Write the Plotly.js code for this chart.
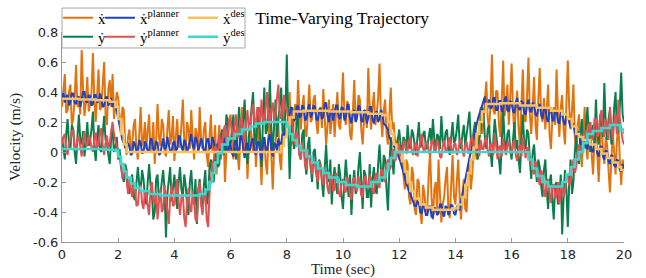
<!DOCTYPE html>
<html>
<head>
<meta charset="utf-8">
<script src="https://cdn.plot.ly/plotly-3.0.1.min.js"></script>
<style>html,body{margin:0;padding:0;background:#fff;}#chart{width:646px;height:278px;}</style>
</head>
<body>
<div id="chart"></div>
<script>
// time stamps of the sampled signals (sec), 0.05 s apart
const timeSec = [];
for (let i = 0; i <= 400; i++) timeSec.push(i / 20);

// x velocity measured (ẋ), one row per second
const xDot = [
  0.30, 0.44, 0.52, 0.26, 0.28, 0.40, 0.45, 0.18, 0.22, 0.36, 0.58, 0.30, 0.35, 0.25, 0.68, 0.42, 0.24, 0.33, 0.50, 0.27,
  0.32, 0.40, 0.66, 0.35, 0.20, 0.38, 0.55, 0.28, 0.30, 0.45, 0.60, 0.24, 0.18, 0.42, 0.48, 0.30, 0.52, 0.22, 0.30, 0.40,
  0.36, 0.20, 0.12, 0.30, 0.28, 0.05, -0.02, 0.10, 0.15, 0.00, 0.05, 0.18, 0.22, 0.02, -0.05, 0.12, 0.30, 0.04, 0.08, 0.20,
  0.02, 0.14, 0.25, 0.00, 0.06, 0.20, -0.08, 0.08, 0.32, 0.10, 0.04, 0.22, 0.18, 0.01, -0.03, 0.15, 0.28, 0.05, 0.10, 0.24,
  -0.06, 0.10, 0.22, 0.03, 0.05, 0.18, 0.35, 0.08, 0.00, 0.20, 0.15, 0.02, 0.28, 0.10, -0.05, 0.16, 0.12, 0.00, 0.30, 0.08,
  0.02, 0.15, 0.20, -0.02, -0.10, 0.10, 0.25, 0.00, 0.05, 0.18, -0.15, 0.06, 0.18, -0.05, 0.02, 0.14, -0.20, 0.00, 0.12, 0.22,
  0.25, 0.05, -0.05, 0.12, 0.15, -0.02, -0.12, 0.10, 0.30, 0.00, 0.05, 0.16, -0.18, 0.02, 0.20, 0.08, 0.00, 0.22, -0.10, 0.06,
  0.22, 0.00, -0.22, 0.05, 0.10, -0.08, -0.15, 0.12, 0.28, -0.02, -0.25, 0.02, 0.05, 0.20, 0.18, -0.05, -0.12, 0.15, 0.35, 0.20,
  0.10, 0.25, 0.40, 0.12, 0.05, 0.22, 0.32, 0.18, 0.48, 0.28, 0.15, 0.30, 0.38, 0.14, 0.10, 0.26, 0.45, 0.20, 0.22, 0.35,
  0.38, 0.20, 0.12, 0.28, 0.30, 0.16, 0.42, 0.22, 0.05, 0.18, 0.35, 0.12, 0.20, 0.32, 0.10, 0.24, 0.40, 0.18, 0.15, 0.30,
  0.53, 0.25, 0.18, 0.34, 0.30, 0.12, 0.08, 0.26, 0.48, 0.20, 0.22, 0.38, 0.35, 0.15, 0.05, 0.22, 0.28, 0.16, 0.56, 0.30,
  0.15, 0.30, 0.40, 0.18, 0.25, 0.36, 0.59, 0.22, 0.10, 0.28, 0.35, 0.12, 0.05, 0.25, 0.43, 0.15, 0.20, 0.08, 0.02, 0.10,
  -0.05, 0.02, 0.00, -0.15, -0.25, -0.05, -0.08, -0.30, -0.35, -0.10, -0.15, -0.38, -0.42, -0.18, -0.20, -0.40, -0.48, -0.22, -0.28, -0.40,
  -0.38, -0.15, 0.00, -0.30, -0.45, -0.25, -0.20, -0.40, -0.05, -0.28, -0.47, -0.35, -0.30, -0.18, -0.10, -0.38, -0.44, -0.22, -0.02, -0.30,
  -0.35, -0.20, -0.05, -0.30, -0.45, -0.28, -0.18, -0.38, -0.40, -0.15, -0.08, -0.25, -0.15, 0.02, 0.10, -0.05, 0.05, 0.20, 0.30, 0.12,
  0.20, 0.35, 0.47, 0.22, 0.15, 0.32, 0.65, 0.28, 0.25, 0.41, 0.40, 0.18, 0.10, 0.35, 0.61, 0.24, 0.30, 0.45, 0.18, 0.36,
  0.59, 0.28, 0.10, 0.30, 0.41, 0.15, 0.05, 0.32, 0.55, 0.22, 0.20, 0.38, 0.63, 0.25, 0.12, 0.30, 0.50, 0.18, 0.08, 0.35,
  0.56, 0.25, 0.20, 0.36, 0.15, 0.28, 0.45, 0.12, 0.02, 0.22, 0.30, 0.18, 0.55, 0.26, 0.10, 0.30, 0.38, 0.15, 0.05, 0.32,
  0.61, 0.30, 0.15, 0.28, 0.45, 0.10, 0.00, 0.18, 0.25, 0.02, -0.10, 0.12, 0.30, 0.05, -0.05, 0.15, 0.20, -0.02, -0.15, 0.08,
  0.15, -0.02, -0.20, 0.05, 0.25, 0.00, -0.08, 0.10, 0.05, -0.12, -0.27, -0.05, 0.12, 0.00, -0.15, 0.08, 0.20, -0.05, -0.22, -0.05,
  -0.10
];

// y velocity measured (ẏ)
const yDot = [
  0.10, 0.02, -0.05, 0.12, 0.22, 0.05, 0.02, 0.18, 0.15, 0.00, -0.08, 0.10, 0.25, 0.08, 0.05, 0.14, -0.03, 0.06, 0.20, 0.04,
  0.08, 0.15, 0.27, 0.04, -0.06, 0.10, 0.18, 0.02, 0.00, 0.12, 0.24, 0.08, 0.06, -0.02, -0.08, 0.10, 0.15, 0.00, 0.03, 0.10,
  -0.05, 0.02, -0.10, -0.15, -0.20, -0.08, -0.12, -0.25, -0.28, -0.18, -0.15, -0.30, -0.32, -0.20, -0.10, -0.22, -0.25, -0.12, -0.18, -0.30,
  -0.35, -0.20, -0.08, -0.22, -0.28, -0.45, -0.40, -0.18, -0.15, -0.32, -0.30, -0.20, -0.12, -0.25, -0.57, -0.28, -0.20, -0.10, -0.33, -0.22,
  -0.15, -0.28, -0.38, -0.20, -0.10, -0.25, -0.30, -0.15, -0.22, -0.35, -0.42, -0.20, -0.12, -0.28, -0.35, -0.18, -0.48, -0.25, -0.18, -0.32,
  -0.40, -0.22, -0.12, -0.35, -0.30, -0.10, -0.05, -0.18, -0.20, 0.00, 0.05, -0.10, -0.08, 0.10, 0.15, -0.02, 0.02, 0.25, 0.20, 0.00,
  0.05, 0.15, 0.25, 0.02, -0.05, 0.12, 0.30, 0.08, 0.10, 0.22, 0.35, 0.05, -0.08, 0.10, 0.20, 0.30, 0.40, 0.12, 0.05, 0.18,
  0.30, 0.10, -0.10, 0.20, 0.43, 0.12, 0.15, 0.28, 0.48, 0.15, 0.00, 0.18, 0.35, 0.10, 0.20, 0.30, 0.43, 0.15, 0.10, 0.25,
  0.65, 0.20, -0.18, 0.10, 0.30, 0.02, 0.05, 0.20, 0.25, -0.02, -0.05, 0.12, 0.15, -0.08, -0.15, 0.05, 0.10, -0.10, -0.20, 0.00,
  0.02, -0.12, -0.25, -0.05, -0.08, -0.20, -0.30, -0.10, 0.05, -0.15, -0.20, -0.05, -0.35, -0.18, -0.10, -0.22, -0.28, -0.08, -0.15, -0.30,
  -0.38, -0.20, -0.05, -0.18, -0.30, -0.15, -0.42, -0.22, -0.12, -0.28, -0.25, -0.10, 0.00, -0.20, -0.38, -0.12, -0.15, -0.30, -0.30, -0.08,
  -0.37, -0.18, -0.10, -0.25, -0.28, -0.08, 0.05, -0.12, -0.20, -0.02, -0.05, -0.25, -0.39, -0.10, 0.10, -0.05, -0.15, 0.05, 0.00, 0.08,
  0.15, 0.05, -0.03, 0.10, 0.08, 0.00, 0.18, 0.06, 0.02, 0.15, 0.12, 0.04, -0.02, 0.10, 0.20, 0.03, 0.05, 0.12, 0.14, 0.02,
  0.03, 0.10, 0.16, 0.05, 0.22, 0.08, 0.01, 0.12, 0.10, 0.02, 0.24, 0.08, 0.04, 0.13, 0.15, 0.03, -0.02, 0.10, 0.20, 0.06,
  0.08, 0.15, 0.25, 0.06, 0.02, 0.12, 0.18, 0.04, 0.12, 0.20, 0.27, 0.08, 0.05, 0.14, 0.20, 0.02, -0.05, 0.08, 0.15, 0.30,
  0.25, 0.10, 0.02, 0.15, 0.18, 0.00, -0.10, 0.08, 0.22, 0.12, 0.05, -0.05, -0.15, 0.10, 0.28, 0.08, 0.00, 0.12, 0.15, 0.02,
  -0.05, 0.08, 0.20, 0.02, 0.08, -0.05, -0.14, 0.10, 0.25, 0.06, 0.02, 0.15, 0.12, -0.05, -0.18, 0.00, 0.05, -0.10, -0.20, -0.05,
  -0.10, -0.22, -0.30, -0.12, -0.05, -0.25, -0.38, -0.20, -0.15, -0.32, -0.45, -0.22, -0.20, -0.35, -0.30, -0.15, -0.55, -0.30, -0.12, -0.25,
  -0.50, -0.20, -0.05, -0.28, -0.20, 0.00, 0.10, -0.05, -0.08, 0.12, 0.22, 0.02, 0.05, 0.18, 0.30, 0.08, 0.00, 0.15, 0.18, 0.05,
  0.35, 0.12, 0.05, 0.25, 0.20, 0.10, 0.46, 0.18, 0.08, 0.22, 0.28, 0.05, 0.10, 0.30, 0.40, 0.12, 0.15, 0.30, 0.53, 0.25,
  0.20
];

// x velocity from planner (ẋ^planner)
const xPlanner = [
  0.36, 0.40, 0.33, 0.37, 0.38, 0.31, 0.34, 0.39, 0.39, 0.33, 0.32, 0.36, 0.37, 0.30, 0.35, 0.40, 0.40, 0.34, 0.33, 0.38,
  0.37, 0.31, 0.32, 0.38, 0.38, 0.33, 0.34, 0.39, 0.36, 0.30, 0.31, 0.36, 0.37, 0.31, 0.33, 0.36, 0.30, 0.34, 0.32, 0.27,
  0.22, 0.17, 0.12, 0.08, 0.06, 0.03, 0.02, 0.06, 0.04, -0.02, -0.01, 0.07, 0.05, 0.00, 0.01, 0.08, 0.06, -0.01, 0.00, 0.07,
  0.05, 0.00, 0.01, 0.09, 0.08, 0.01, 0.02, 0.07, 0.06, -0.02, -0.01, 0.05, 0.09, 0.02, 0.03, 0.10, 0.05, 0.00, 0.00, 0.06,
  0.07, 0.01, 0.02, 0.11, 0.10, 0.03, 0.01, 0.08, 0.06, 0.00, 0.03, 0.09, 0.12, 0.04, 0.02, 0.10, 0.08, 0.01, 0.04, 0.09,
  0.06, 0.00, 0.01, 0.08, 0.09, 0.02, 0.03, 0.10, 0.07, -0.01, 0.00, 0.06, 0.05, -0.02, 0.02, 0.09, 0.08, 0.00, 0.01, 0.07,
  0.04, -0.01, -0.03, 0.06, 0.08, 0.00, 0.01, 0.10, 0.11, 0.02, -0.04, 0.04, 0.06, -0.01, 0.02, 0.08, 0.09, 0.00, -0.02, 0.06,
  0.07, 0.00, -0.05, 0.05, 0.10, 0.02, 0.00, 0.09, 0.12, 0.01, -0.03, 0.06, 0.05, 0.01, 0.09, 0.04, 0.06, 0.12, 0.10, 0.15,
  0.18, 0.22, 0.24, 0.30, 0.28, 0.21, 0.22, 0.30, 0.31, 0.23, 0.24, 0.31, 0.30, 0.21, 0.22, 0.29, 0.32, 0.23, 0.25, 0.31,
  0.30, 0.22, 0.21, 0.28, 0.29, 0.22, 0.24, 0.32, 0.33, 0.24, 0.20, 0.27, 0.28, 0.21, 0.25, 0.31, 0.31, 0.23, 0.22, 0.30,
  0.29, 0.21, 0.23, 0.31, 0.32, 0.22, 0.19, 0.27, 0.28, 0.20, 0.24, 0.31, 0.30, 0.21, 0.20, 0.28, 0.27, 0.19, 0.23, 0.30,
  0.30, 0.22, 0.19, 0.26, 0.27, 0.20, 0.22, 0.28, 0.26, 0.19, 0.18, 0.16, 0.15, 0.10, 0.08, 0.05, 0.04, 0.03, 0.01, -0.02,
  -0.04, -0.07, -0.10, -0.14, -0.17, -0.21, -0.24, -0.26, -0.28, -0.31, -0.33, -0.36, -0.36, -0.33, -0.34, -0.40, -0.41, -0.35, -0.37, -0.42,
  -0.42, -0.37, -0.36, -0.43, -0.44, -0.37, -0.38, -0.42, -0.41, -0.35, -0.35, -0.41, -0.43, -0.36, -0.37, -0.42, -0.40, -0.35, -0.36, -0.41,
  -0.42, -0.37, -0.35, -0.39, -0.33, -0.28, -0.22, -0.18, -0.12, -0.08, -0.04, 0.00, 0.05, 0.09, 0.13, 0.18, 0.22, 0.25, 0.28, 0.31,
  0.33, 0.37, 0.27, 0.30, 0.35, 0.29, 0.30, 0.36, 0.36, 0.28, 0.28, 0.34, 0.34, 0.27, 0.29, 0.35, 0.37, 0.28, 0.27, 0.34,
  0.33, 0.27, 0.26, 0.33, 0.36, 0.29, 0.28, 0.34, 0.33, 0.26, 0.25, 0.32, 0.35, 0.27, 0.27, 0.33, 0.31, 0.25, 0.24, 0.30,
  0.32, 0.25, 0.22, 0.29, 0.30, 0.22, 0.20, 0.28, 0.29, 0.21, 0.21, 0.27, 0.28, 0.20, 0.19, 0.26, 0.27, 0.20, 0.18, 0.25,
  0.24, 0.19, 0.16, 0.20, 0.18, 0.13, 0.10, 0.14, 0.12, 0.06, 0.05, 0.11, 0.10, 0.03, 0.02, 0.08, 0.08, 0.01, 0.00, 0.06,
  0.05, -0.01, -0.03, 0.03, 0.04, -0.03, -0.05, 0.01, 0.00, -0.06, -0.08, -0.02, -0.03, -0.09, -0.10, -0.05, -0.06, -0.12, -0.13, -0.08,
  -0.12
];

// y velocity from planner (ẏ^planner)
const yPlanner = [
  0.05, 0.10, 0.12, 0.02, -0.02, 0.06, 0.08, 0.13, 0.15, 0.04, 0.01, 0.09, 0.10, 0.02, -0.03, 0.07, 0.14, 0.05, 0.04, 0.11,
  0.09, 0.03, 0.00, 0.08, 0.13, 0.03, 0.05, 0.12, 0.16, 0.04, -0.02, 0.06, 0.11, 0.02, 0.06, 0.14, 0.20, 0.12, 0.08, 0.03,
  0.00, -0.05, -0.08, -0.18, -0.15, -0.10, -0.22, -0.28, -0.18, -0.26, -0.30, -0.20, -0.25, -0.36, -0.35, -0.24, -0.22, -0.34, -0.38, -0.26,
  -0.28, -0.36, -0.42, -0.25, -0.20, -0.32, -0.35, -0.26, -0.45, -0.33, -0.25, -0.40, -0.38, -0.22, -0.30, -0.42, -0.48, -0.30, -0.22, -0.36,
  -0.35, -0.26, -0.18, -0.33, -0.42, -0.30, -0.28, -0.44, -0.50, -0.34, -0.24, -0.38, -0.40, -0.26, -0.32, -0.45, -0.46, -0.28, -0.20, -0.35,
  -0.42, -0.30, -0.25, -0.45, -0.50, -0.28, -0.15, -0.08, -0.05, 0.04, 0.02, -0.03, 0.12, 0.02, 0.05, 0.15, 0.18, 0.06, 0.10, 0.22,
  0.20, 0.12, 0.08, 0.18, 0.25, 0.10, 0.12, 0.22, 0.22, 0.10, 0.06, 0.20, 0.28, 0.14, 0.15, 0.26, 0.32, 0.20, 0.18, 0.30,
  0.26, 0.18, 0.35, 0.22, 0.20, 0.30, 0.40, 0.22, 0.18, 0.28, 0.33, 0.20, 0.25, 0.36, 0.45, 0.25, 0.22, 0.32, 0.38, 0.28,
  0.30, 0.22, 0.15, 0.25, 0.20, 0.08, 0.05, 0.14, 0.10, -0.02, -0.05, 0.06, 0.02, -0.08, -0.12, 0.00, -0.02, -0.10, -0.15, -0.05,
  -0.08, -0.15, -0.20, -0.06, -0.10, -0.18, -0.22, -0.12, -0.14, -0.24, -0.28, -0.15, -0.16, -0.26, -0.25, -0.14, -0.19, -0.27, -0.30, -0.20,
  -0.18, -0.25, -0.27, -0.17, -0.20, -0.29, -0.32, -0.19, -0.17, -0.24, -0.26, -0.16, -0.21, -0.29, -0.30, -0.18, -0.16, -0.23, -0.25, -0.15,
  -0.18, -0.26, -0.28, -0.16, -0.14, -0.22, -0.24, -0.12, -0.12, -0.18, -0.20, -0.08, -0.05, -0.12, -0.10, 0.00, 0.02, -0.06, -0.04, 0.04,
  0.05, -0.02, -0.03, 0.06, 0.08, -0.01, 0.01, 0.07, 0.10, 0.00, -0.02, 0.05, 0.06, -0.03, 0.03, 0.09, 0.12, 0.02, 0.00, 0.06,
  0.07, 0.00, -0.02, 0.06, 0.09, 0.00, 0.02, 0.08, 0.05, -0.03, -0.04, 0.04, 0.08, 0.00, 0.01, 0.07, 0.10, 0.02, -0.01, 0.05,
  0.06, -0.02, 0.00, 0.07, 0.09, 0.01, -0.03, 0.04, 0.07, -0.01, 0.02, 0.08, 0.11, 0.03, -0.02, 0.04, 0.05, -0.03, 0.08, 0.02,
  0.02, 0.08, 0.10, 0.01, -0.03, 0.05, 0.06, -0.02, 0.12, 0.04, -0.05, 0.03, 0.04, -0.03, 0.09, 0.02, -0.02, 0.05, 0.07, -0.01,
  0.00, 0.06, 0.08, -0.02, -0.06, 0.02, 0.05, -0.03, 0.10, 0.02, -0.04, 0.03, 0.02, -0.06, -0.08, -0.12, -0.15, -0.06, -0.10, -0.18,
  -0.22, -0.12, -0.15, -0.26, -0.30, -0.20, -0.18, -0.28, -0.34, -0.22, -0.22, -0.31, -0.28, -0.20, -0.35, -0.25, -0.20, -0.30, -0.26, -0.18,
  -0.15, -0.22, -0.20, -0.10, -0.05, -0.14, -0.10, 0.00, 0.05, -0.02, 0.02, 0.10, 0.15, 0.05, 0.08, 0.18, 0.20, 0.08, 0.10, 0.22,
  0.22, 0.10, 0.12, 0.24, 0.28, 0.15, 0.10, 0.22, 0.18, 0.08, 0.30, 0.18, 0.08, 0.20, 0.25, 0.12, 0.35, 0.22, 0.15, 0.08,
  0.05
];

// desired x velocity (ẋ^des), held between updates
const xDesTime = [0, 0.6, 1.2, 1.7, 1.9, 2.0, 2.1, 2.2, 2.3, 7.8, 7.9, 8.0, 8.1, 8.25, 8.6, 9.5, 10.3, 10.9, 11.4,
  11.6, 11.7, 11.8, 11.9, 12.1, 12.2, 12.3, 12.4, 12.55, 12.75, 12.95, 13.2, 13.9, 14.1, 14.25, 14.35, 14.45,
  14.55, 14.65, 14.75, 14.85, 14.95, 15.1, 15.6, 16.3, 16.9, 17.4, 17.8, 18.0, 18.15, 18.3, 18.4, 18.55, 18.8,
  19.0, 19.2, 19.4, 19.6, 19.8, 19.9, 20];
const xDes = [0.355, 0.35, 0.345, 0.335, 0.30, 0.22, 0.12, 0.05, 0.0, 0.04, 0.10, 0.17, 0.23, 0.27, 0.275, 0.27, 0.265, 0.255, 0.245,
  0.20, 0.12, 0.05, 0.0, -0.06, -0.13, -0.20, -0.26, -0.31, -0.35, -0.37, -0.385, -0.375, -0.35, -0.30, -0.22, -0.14,
  -0.05, 0.03, 0.12, 0.20, 0.27, 0.32, 0.325, 0.31, 0.295, 0.275, 0.25, 0.22, 0.17, 0.12, 0.10, 0.08, 0.05,
  0.02, -0.01, -0.04, -0.07, -0.10, -0.12, -0.12];

// desired y velocity (ẏ^des), held between updates
const yDesTime = [0, 0.8, 1.5, 1.9, 2.0, 2.1, 2.2, 2.3, 2.45, 2.6, 2.8, 3.1, 3.5, 4.4, 4.9, 5.1, 5.25, 5.35, 5.45, 5.55,
  5.7, 5.9, 6.15, 6.4, 6.7, 6.9, 7.2, 7.9, 8.0, 8.1, 8.2, 8.35, 8.5, 8.7, 8.9, 9.1, 9.3, 9.5, 9.8, 10.1, 10.5,
  11.0, 11.3, 11.5, 11.6, 11.7, 11.85, 16.5, 16.6, 16.75, 16.9, 17.1, 17.3, 17.6, 17.8, 17.95, 18.1, 18.25, 18.4,
  18.55, 18.7, 18.9, 19.2, 19.5, 19.7, 19.85, 20];
const yDes = [0.02, 0.02, 0.015, 0.01, -0.03, -0.08, -0.13, -0.17, -0.21, -0.24, -0.26, -0.28, -0.29, -0.29, -0.28, -0.25, -0.20, -0.14, -0.07, -0.01,
  0.05, 0.09, 0.12, 0.15, 0.17, 0.19, 0.20, 0.20, 0.17, 0.12, 0.08, 0.04, 0.01, -0.03, -0.07, -0.11, -0.14, -0.17, -0.20, -0.22, -0.23,
  -0.20, -0.17, -0.13, -0.08, -0.04, 0.0, 0.0, -0.05, -0.11, -0.16, -0.20, -0.23, -0.23, -0.20, -0.15, -0.10, -0.05, 0.0,
  0.06, 0.12, 0.14, 0.16, 0.18, 0.18, 0.15, 0.12];

const yTickVals = [-0.6, -0.4, -0.2, 0, 0.2, 0.4, 0.6, 0.8];
const yTickText = ['-0.6', '-0.4', '-0.2', '0', '0.2', '0.4', '0.6', '0.8'];
const xTickVals = [0, 2, 4, 6, 8, 10, 12, 14, 16, 18, 20];

const legendFont = {family: 'Liberation Serif, DejaVu Serif, serif', size: 15, color: '#000'};
const noisyW = 2, desW = 2.6;

const traces = [
  {x: timeSec, y: xDot, name: 'ẋ', legend: 'legend', line: {color: '#E2740F', width: noisyW}},
  {x: timeSec, y: yDot, name: 'ẏ', legend: 'legend2', line: {color: '#0C7D4C', width: noisyW}},
  {x: timeSec, y: xPlanner, name: 'ẋ<sup>planner</sup>', legend: 'legend3', line: {color: '#2141BE', width: noisyW}},
  {x: timeSec, y: yPlanner, name: 'ẏ<sup>planner</sup>', legend: 'legend4', line: {color: '#E05252', width: noisyW}},
  {x: xDesTime, y: xDes, name: 'ẋ<sup>des</sup>', legend: 'legend5', line: {color: '#F9C25C', width: desW, shape: 'hv'}},
  {x: yDesTime, y: yDes, name: 'ẏ<sup>des</sup>', legend: 'legend6', line: {color: '#3FD6CE', width: desW, shape: 'hv'}}
].map(tr => Object.assign({type: 'scatter', mode: 'lines', hoverinfo: 'skip'}, tr));

function leg(x, y) {
  return {x: x, y: y, xanchor: 'left', yanchor: 'middle', bgcolor: 'rgba(0,0,0,0)', borderwidth: 0,
          font: legendFont, itemwidth: 30};
}
const row1 = 1.067, row2 = 0.976;
const c1 = -0.007, c2 = 0.0676, c3 = 0.2153;

const layout = {
  width: 646, height: 278,
  margin: {l: 62, r: 22, t: 32, b: 36, autoexpand: false},
  paper_bgcolor: '#fff', plot_bgcolor: '#fff',
  showlegend: true,
  title: {text: 'Time-Varying Trajectory', x: 0.395, xanchor: 'left', xref: 'container',
          y: 0.935, yanchor: 'middle', yref: 'container',
          font: {family: 'Liberation Serif, DejaVu Serif, serif', size: 17.5, color: '#000'}},
  xaxis: {range: [0, 20], tickvals: xTickVals, ticks: 'inside', ticklen: 4, tickcolor: '#999',
          showline: true, linecolor: '#999', linewidth: 1, showgrid: false, zeroline: false,
          tickfont: {family: 'DejaVu Sans, sans-serif', size: 13, color: '#262626'},
          title: {text: 'Time (sec)', standoff: 3, font: {family: 'Liberation Serif, DejaVu Serif, serif', size: 15, color: '#262626'}}},
  yaxis: {range: [-0.6, 0.8], tickvals: yTickVals, ticktext: yTickText, ticks: 'inside', ticklen: 4, tickcolor: '#999',
          showline: true, linecolor: '#999', linewidth: 1, showgrid: false, zeroline: false,
          tickfont: {family: 'DejaVu Sans, sans-serif', size: 13, color: '#262626'},
          title: {text: 'Velocity (m/s)', standoff: 8, font: {family: 'Liberation Serif, DejaVu Serif, serif', size: 15.5, color: '#262626'}}},
  shapes: [{type: 'rect', xref: 'paper', yref: 'paper', x0: 0, x1: 0.3256, y0: 0.924, y1: 1.114,
            line: {color: '#A8A8A8', width: 1}, fillcolor: '#fff', layer: 'above'}],
  legend: leg(c1, row1), legend2: leg(c1, row2),
  legend3: leg(c2, row1), legend4: leg(c2, row2),
  legend5: leg(c3, row1), legend6: leg(c3, row2)
};

Plotly.newPlot('chart', traces, layout, {staticPlot: true, displayModeBar: false});
</script>
</body>
</html>
